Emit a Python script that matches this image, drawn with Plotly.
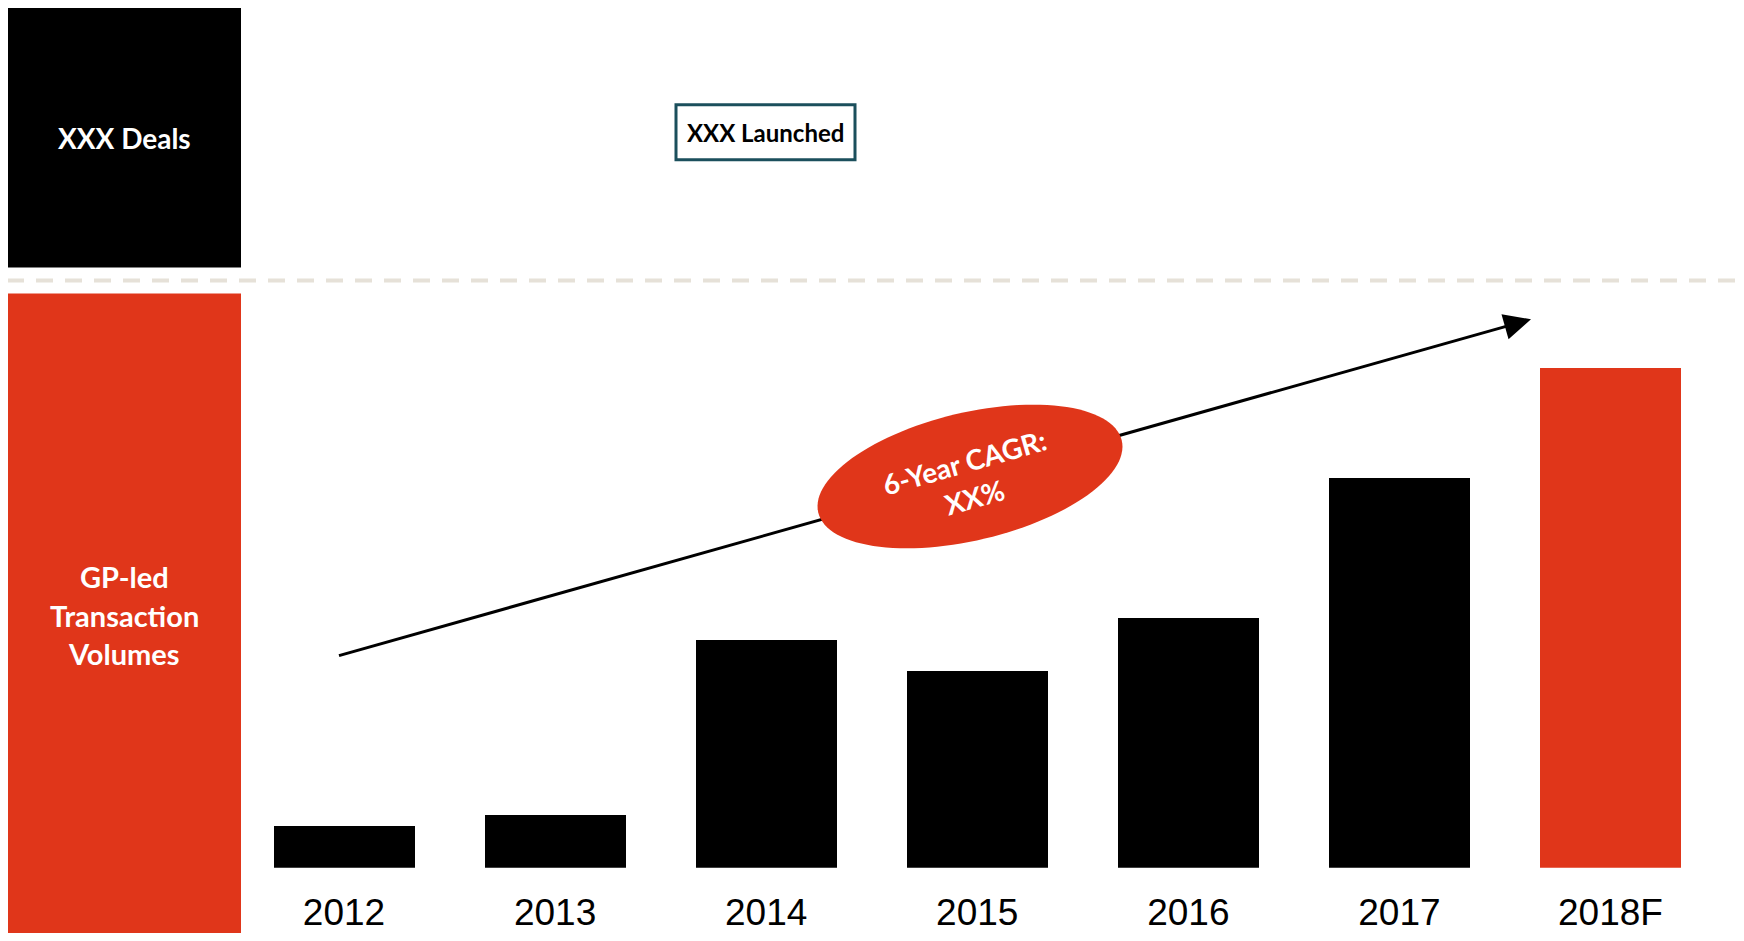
import numpy as np
import plotly.graph_objects as go

# ---- data ----
years = ["2012", "2013", "2014", "2015", "2016", "2017", "2018F"]
volumes = [4.2, 5.3, 22.8, 19.7, 25.0, 39.0, 50.1]
bar_colors = ["#000000"] * 6 + ["#E0361A"]

left_top_label = "XXX Deals"
left_bottom_lines = ["GP-led", "Transaction", "Volumes"]
launch_label = "XXX Launched"
cagr_label = "6-Year CAGR:<br>XX%"

# ---- layout geometry (page pixels) ----
PAGE_W, PAGE_H = 1744, 941
OFF = 8                      # default body margin of the html page
W, H = PAGE_W - 2 * OFF, PAGE_H - 2 * OFF
RED = "#E0361A"
FONT_SANS = "Lato"
BASE_PX = 869.5              # bar baseline (page pixels)
PX_PER_UNIT = 10.0
X0_PX, DX_PX = 344.0, 211.08  # first bar center, bar spacing (page pixels)


def px(x):
    return (x - OFF) / W


def py(y):
    return 1 - (y - OFF) / H


fig = go.Figure()
fig.add_trace(go.Bar(
    x=years, y=volumes, marker=dict(color=bar_colors, line=dict(width=0)),
    width=0.668, hoverinfo="x+y",
))

shapes = []
# left black box & red box
shapes.append(dict(type="rect", xref="paper", yref="paper", x0=px(7), x1=px(241),
                   y0=py(268), y1=py(6), fillcolor="#000000", line=dict(width=0), layer="below"))
shapes.append(dict(type="rect", xref="paper", yref="paper", x0=px(7), x1=px(241),
                   y0=py(937), y1=py(294), fillcolor=RED, line=dict(width=0), layer="below"))
# dashed separator
shapes.append(dict(type="line", xref="paper", yref="paper", x0=px(7), x1=1,
                   y0=py(281), y1=py(281), line=dict(color="#E6E1D8", width=4, dash="17px,12px"),
                   layer="below"))
# launched box
shapes.append(dict(type="rect", xref="paper", yref="paper", x0=px(676), x1=px(855),
                   y0=py(160), y1=py(105), fillcolor="#FFFFFF",
                   line=dict(color="#1B4F5C", width=3), layer="above"))

# trend arrow
sx, sy = 339.0, 657.0
tx, ty = 1531.0, 320.0
d = np.array([tx - sx, ty - sy])
d = d / np.linalg.norm(d)
n = np.array([-d[1], d[0]])
head_len, head_half = 27.0, 13.0
base = np.array([tx, ty]) - head_len * d
shapes.append(dict(type="line", xref="paper", yref="paper", x0=px(sx), y0=py(sy),
                   x1=px(base[0] + 2 * d[0]), y1=py(base[1] + 2 * d[1]),
                   line=dict(color="#000000", width=3), layer="above"))
c1 = base + head_half * n
c2 = base - head_half * n
shapes.append(dict(type="path", xref="paper", yref="paper",
                   path=f"M{px(tx)},{py(ty)} L{px(c1[0])},{py(c1[1])} L{px(c2[0])},{py(c2[1])} Z",
                   fillcolor="#000000", line=dict(width=0), layer="above"))

# CAGR ellipse (rotated)
cx, cy, a, b, ang = 970.0, 477.5, 156.0, 64.0, np.deg2rad(13.4)
t = np.linspace(0, 2 * np.pi, 120, endpoint=False)
ex = cx + a * np.cos(t) * np.cos(ang) - b * np.sin(t) * np.sin(ang)
ey = cy - (a * np.cos(t) * np.sin(ang) + b * np.sin(t) * np.cos(ang))
path = "M" + " L".join(f"{px(xx):.5f},{py(yy):.5f}" for xx, yy in zip(ex, ey)) + " Z"
shapes.append(dict(type="path", xref="paper", yref="paper", path=path,
                   fillcolor=RED, line=dict(width=0), layer="above"))

annotations = []
annotations.append(dict(xref="paper", yref="paper", x=px(124), y=py(138), text=f"<b>{left_top_label}</b>",
                        showarrow=False, font=dict(family=FONT_SANS, size=28, color="#FFFFFF"),
                        xanchor="center", yanchor="middle"))
for line, yy in zip(left_bottom_lines, [578, 617, 655]):
    annotations.append(dict(xref="paper", yref="paper", x=px(124), y=py(yy), text=f"<b>{line}</b>",
                            showarrow=False, font=dict(family=FONT_SANS, size=29, color="#FFFFFF"),
                            xanchor="center", yanchor="middle"))
annotations.append(dict(xref="paper", yref="paper", x=px(765.5), y=py(132.5), text=f"<b>{launch_label}</b>",
                        showarrow=False, font=dict(family=FONT_SANS, size=24, color="#000000"),
                        xanchor="center", yanchor="middle"))
annotations.append(dict(xref="paper", yref="paper", x=px(970), y=py(480), text=f"<b>{cagr_label}</b>",
                        showarrow=False, textangle=-16,
                        font=dict(family=FONT_SANS, size=28, color="#FFFFFF"),
                        xanchor="center", yanchor="middle"))

fig.update_layout(
    width=W, height=H,
    margin=dict(l=0, r=0, t=0, b=0, pad=0),
    paper_bgcolor="#FFFFFF", plot_bgcolor="rgba(0,0,0,0)",
    showlegend=False,
    bargap=0,
    shapes=shapes,
    annotations=annotations,
    xaxis=dict(
        type="category",
        range=[(OFF - X0_PX) / DX_PX, (OFF + W - X0_PX) / DX_PX],
        showgrid=False, zeroline=False, showline=False,
        ticks="outside", ticklen=0, tickcolor="rgba(0,0,0,0)",
        ticklabelstandoff=12,
        tickfont=dict(family="Liberation Sans, Arial", size=37, color="#000000"),
        fixedrange=True,
    ),
    yaxis=dict(
        domain=[1 - (BASE_PX - OFF) / H, 1],
        range=[0, (BASE_PX - OFF) / PX_PER_UNIT],
        visible=False, fixedrange=True,
    ),
)

fig.write_html("out.html", config=dict(displayModeBar=False))
